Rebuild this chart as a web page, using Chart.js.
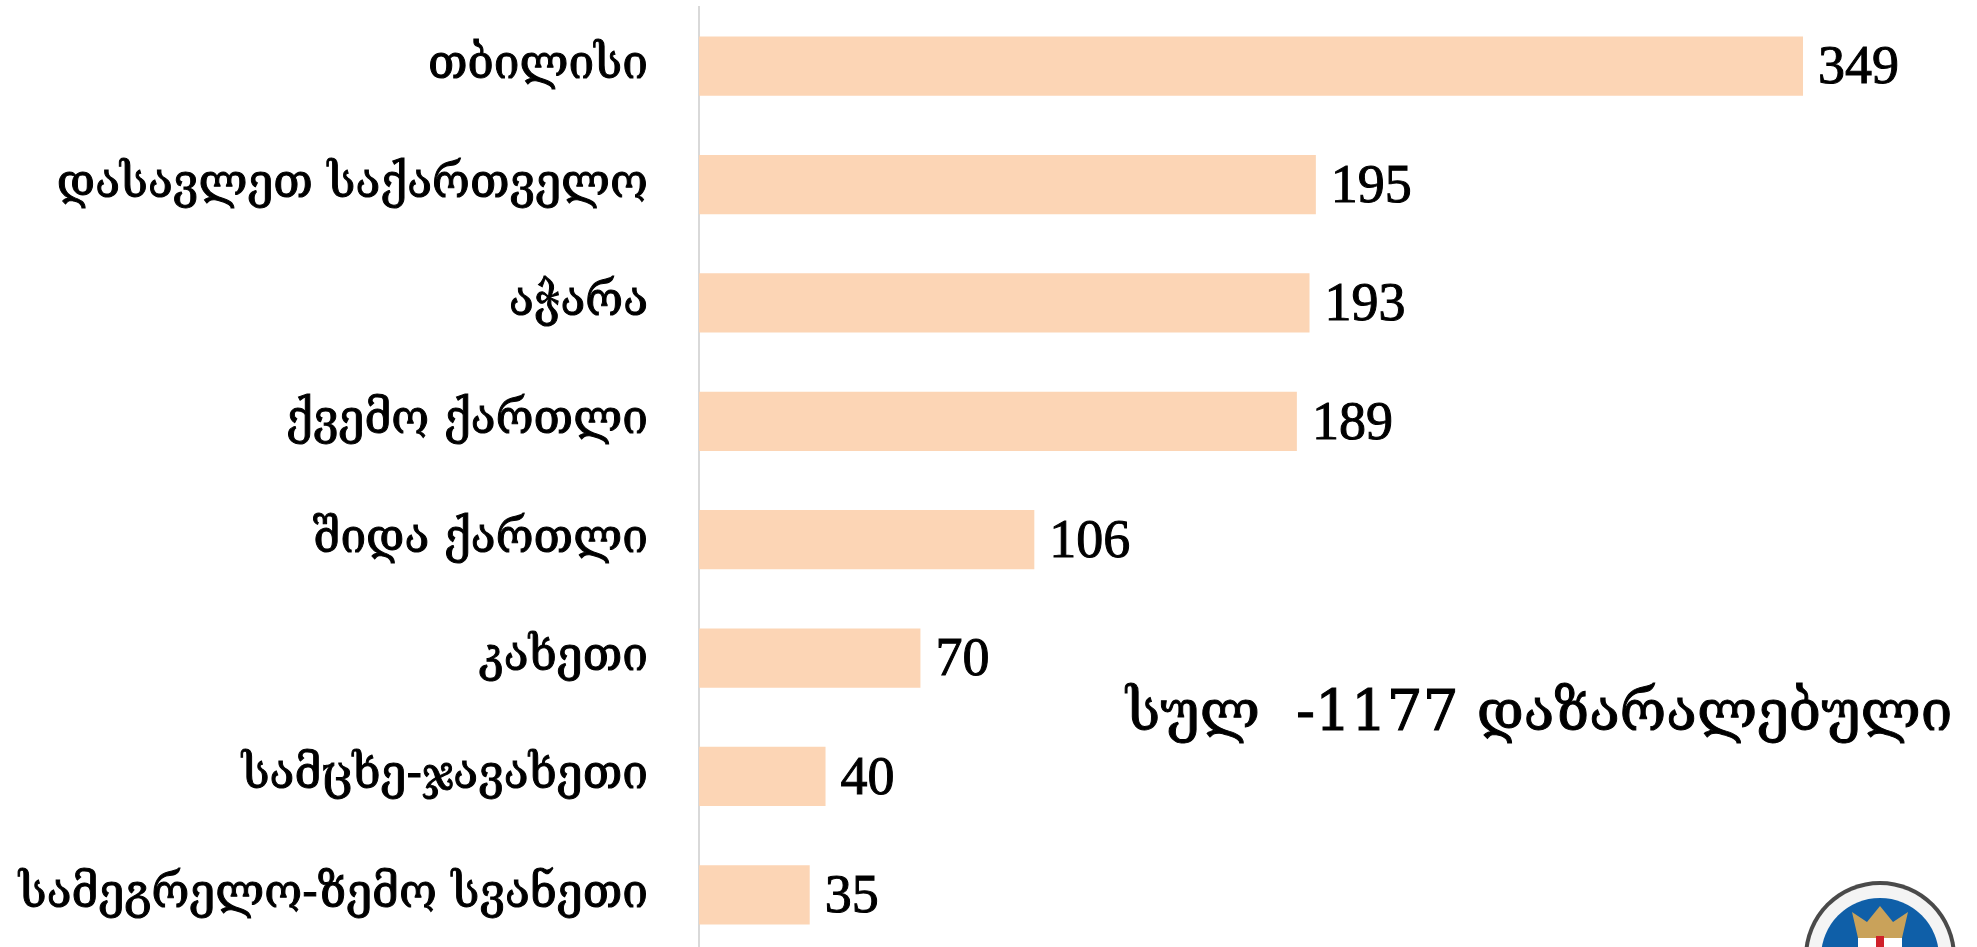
<!DOCTYPE html>
<html><head><meta charset="utf-8">
<style>html,body{margin:0;padding:0;background:#fff;overflow:hidden}#w{position:relative;width:1977px;height:947px;overflow:hidden}canvas{display:block}</style>
<script src="https://cdn.jsdelivr.net/npm/chart.js@4"></script></head>
<body><div id="w"><canvas id="c" width="1977" height="954"></canvas></div>
<script>
const categories=["თბილისი","დასავლეთ საქართველო","აჭარა","ქვემო ქართლი","შიდა ქართლი","კახეთი","სამცხე-ჯავახეთი","სამეგრელო-ზემო სვანეთი"];
const values=[349,195,193,189,106,70,40,35];
const note="სულ  -1177 დაზარალებული";
const font='"DejaVu Serif","Liberation Serif",serif';
function logo(c){
 const x=1880,y=957;
 const disc=(r,f)=>{c.beginPath();c.arc(x,y,r,0,Math.PI*2);c.fillStyle=f;c.fill();};
 disc(76,'#4a4a4a');disc(72,'#f4f4f4');disc(59,'#0f5fa8');
 c.fillStyle='#c9a25a';c.beginPath();c.moveTo(1858,938);c.lineTo(1852,912);c.lineTo(1867,922);c.lineTo(1880,906);c.lineTo(1893,922);c.lineTo(1908,912);c.lineTo(1902,938);c.closePath();c.fill();
 c.fillStyle='#fff';c.fillRect(1858,938,44,12);
 c.fillStyle='#d0202a';c.fillRect(1876,936,8,12);
}
const plugin={id:'x',afterDatasetsDraw(ch){
 const c=ch.ctx,m=ch.getDatasetMeta(0);c.save();c.fillStyle='#000';c.strokeStyle='#000';c.lineWidth=1;c.textBaseline='middle';
 c.font='54px "Liberation Serif"';
 m.data.forEach((b,i)=>{const s=String(values[i]);c.fillText(s,b.x+15,b.y+3);c.strokeText(s,b.x+15,b.y+3);});
 c.font='56.5px '+font;c.fillText(note,1126,715);c.strokeText(note,1126,715);
 logo(c);c.restore();}};
new Chart(document.getElementById('c'),{type:'bar',data:{labels:categories,datasets:[{data:values,backgroundColor:'#FCD5B5',categoryPercentage:1,barPercentage:0.5}]},
options:{responsive:false,animation:false,layout:{padding:{left:0,right:0,top:7,bottom:0}},
plugins:{legend:{display:false},tooltip:{enabled:false}},indexAxis:'y',
scales:{x:{min:0,max:404,display:false},y:{afterFit(a){a.width=699;a.paddingTop=0;a.paddingBottom=0},grid:{display:false},border:{color:'#d9d9d9',width:2},ticks:{color:'#000',font:{family:font,size:46},padding:43,autoSkip:false,textStrokeColor:'#000',textStrokeWidth:1}}}},plugins:[plugin]});
</script></body></html>
